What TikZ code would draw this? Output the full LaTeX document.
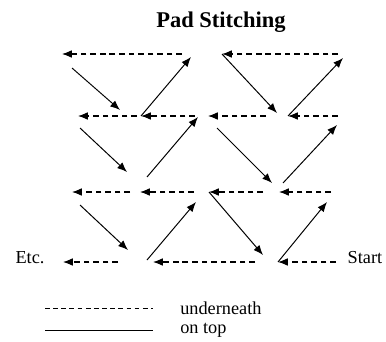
\documentclass[tikz,border=0pt]{standalone}
\usepackage{fontspec}
\setmainfont{Liberation Serif}
\usetikzlibrary{arrows.meta}

\begin{document}
\begin{tikzpicture}[x=0.025cm, y=-0.025cm,
  dashedstitch/.style={line width=0.8pt, dash pattern=on 4pt off 2.8pt, -{Latex[length=7pt,width=5.5pt]}},
  solidstitch/.style={line width=0.7pt, -{Latex[length=7pt,width=5.5pt]}},
  label/.style={font=\fontsize{13}{15}\selectfont, inner sep=0pt}]
\useasboundingbox (0,0) rectangle (386,341);
\node[font=\fontsize{16}{19}\selectfont\bfseries, inner sep=0pt] (title) at (221,22) {Pad Stitching};

% Pontos por baixo (tracejados)
\foreach \n/\xa/\xb/\y in {1/182/62/54, 2/338/222/54,
    3/137/78/116, 4/195/141/116, 5/266/208/116, 6/338/288/116,
    7/130/72/192, 8/194/140/192, 9/263/209/192, 10/331/279/192,
    11/118/63/262, 12/255/153/262, 13/336/278/262} {
  \coordinate (d\n a) at (\xa,\y);
  \coordinate (d\n b) at (\xb,\y);
}
\foreach \n in {1,...,13}
  \draw[dashedstitch] (d\n a) -- (d\n b);

% Pontos por cima (linhas cheias)
\coordinate (s1a) at (72,68);    \coordinate (s1b) at (120,110);
\coordinate (s2b) at (191,57);
\coordinate (s3b) at (277,113);
\coordinate (s4b) at (343,58);
\coordinate (s5a) at (80,128);   \coordinate (s5b) at (127,172);
\coordinate (s6a) at (147,177);  \coordinate (s6b) at (198,117);
\coordinate (s7a) at (217,128);  \coordinate (s7b) at (272,183);
\coordinate (s8a) at (283,183);  \coordinate (s8b) at (337,125);
\coordinate (s9a) at (80,205);   \coordinate (s9b) at (128,250);
\coordinate (s10a) at (147,260); \coordinate (s10b) at (196,202);
\coordinate (s11b) at (263,255);
\coordinate (s12b) at (327,202);

\draw[solidstitch] (s1a) -- (s1b);
\draw[solidstitch] (d4b) -- (s2b);
\draw[solidstitch] (d2b) -- (s3b);
\draw[solidstitch] (d6b) -- (s4b);
\draw[solidstitch] (s5a) -- (s5b);
\draw[solidstitch] (s6a) -- (s6b);
\draw[solidstitch] (s7a) -- (s7b);
\draw[solidstitch] (s8a) -- (s8b);
\draw[solidstitch] (s9a) -- (s9b);
\draw[solidstitch] (s10a) -- (s10b);
\draw[solidstitch] (d9b) -- (s11b);
\draw[solidstitch] (d13b) -- (s12b);

\node[label] (etc) at (30,258) {Etc.};
\node[label] (start) at (365,258) {Start};

% Legenda
\coordinate (lu1) at (45,308);  \coordinate (lu2) at (153,308);
\coordinate (lo1) at (45,330);  \coordinate (lo2) at (153,330);
\draw[line width=0.6pt, dash pattern=on 3.4pt off 2.4pt] (lu1) -- (lu2);
\draw[line width=0.7pt] (lo1) -- (lo2);
\node[label, anchor=west] (under) at (180,308) {underneath};
\node[label, anchor=west] (ontop) at (180,330) {on top};
\end{tikzpicture}
\end{document}
